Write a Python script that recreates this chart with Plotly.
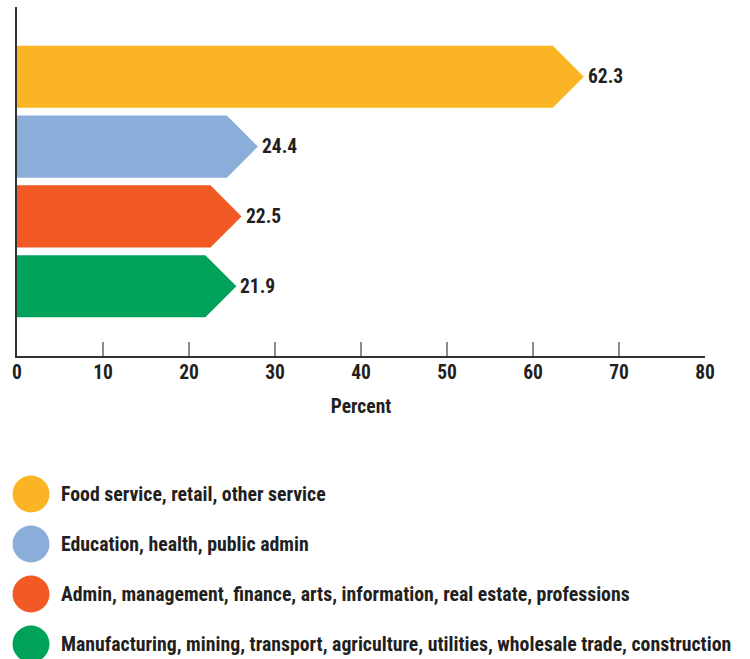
import plotly.graph_objects as go

# Share of workers by industry group
categories = [
    "Food service, retail, other service",
    "Education, health, public admin",
    "Admin, management, finance, arts, information, real estate, professions",
    "Manufacturing, mining, transport, agriculture, utilities, wholesale trade, construction",
]
values = [62.3, 24.4, 22.5, 21.9]
colors = ["#FBB424", "#8AADD9", "#F15A25", "#00A25A"]
x_ticks = [0, 10, 20, 30, 40, 50, 60, 70, 80]

W, H = 750, 659
FONT = "Roboto Condensed, Liberation Sans Narrow, DejaVu Sans Condensed, sans-serif"
TEXT = "#231F20"
FS = 19.5

# plot area in pixels
px_left, px_right, px_top, px_bottom = 17, 705, 7, 356
x_range = [0, 80]
y_range = [4, -1]
px_per_x = (px_right - px_left) / (x_range[1] - x_range[0])
px_per_y = (px_bottom - px_top) / abs(y_range[0] - y_range[1])

half = 0.445                       # half bar thickness, category units
tip = half * px_per_y / px_per_x   # arrow point length for a 45-degree tip


def font(size=FS):
    return dict(family=FONT, size=size, color=TEXT, weight="bold")


fig = go.Figure()

for i, (cat, v, c) in enumerate(zip(categories, values, colors)):
    xs = [0, v, v + tip, v, 0, 0]
    ys = [i - half, i - half, i, i + half, i + half, i - half]
    fig.add_trace(go.Scatter(
        x=xs, y=ys, mode="lines", fill="toself", fillcolor=c,
        line=dict(width=0, color=c), hoverinfo="skip", showlegend=False,
        xaxis="x", yaxis="y",
    ))
    fig.add_annotation(
        x=v + tip, y=i, xref="x", yref="y", text=f"{v:.1f}",
        showarrow=False, xanchor="left", yanchor="middle", xshift=2,
        font=font(),
    )

# legend drawn as a key of dots with labels below the chart
legend_y0, legend_step, dot_x, text_x = 494, 50, 31, 61
fig.add_trace(go.Scatter(
    x=[dot_x] * len(categories),
    y=[legend_y0 + legend_step * i for i in range(len(categories))],
    mode="markers", marker=dict(size=37, color=colors, line=dict(width=0)),
    hoverinfo="skip", showlegend=False, xaxis="x2", yaxis="y2", cliponaxis=False,
))
for i, cat in enumerate(categories):
    fig.add_annotation(
        x=text_x, y=legend_y0 + legend_step * i, xref="x2", yref="y2",
        text=cat, showarrow=False, xanchor="left", yanchor="middle", xshift=-2,
        font=font(19.8),
    )

fig.update_layout(
    width=W, height=H,
    margin=dict(l=0, r=0, t=0, b=0, autoexpand=False),
    paper_bgcolor="white", plot_bgcolor="rgba(0,0,0,0)",
    font=font(),
    xaxis=dict(
        domain=[px_left / W, px_right / W], range=x_range,
        tickvals=x_ticks, ticks="inside", ticklen=14, tickwidth=2, tickcolor="#8C8C8C",
        showline=True, linecolor="#333333", linewidth=2, showgrid=False, zeroline=False,
        tickfont=font(), automargin=False, ticklabelstandoff=-2,
        title=dict(text="Percent", standoff=16, font=font()),
        anchor="y", fixedrange=True,
    ),
    yaxis=dict(
        domain=[1 - px_bottom / H, 1 - px_top / H], range=y_range,
        showline=True, linecolor="#333333", linewidth=2, showgrid=False, zeroline=False,
        showticklabels=False, ticks="", anchor="x", fixedrange=True, automargin=False,
    ),
    xaxis2=dict(domain=[0, 1], range=[0, W], visible=False, anchor="y2", fixedrange=True),
    yaxis2=dict(domain=[0, 1], range=[H, 0], visible=False, anchor="x2", fixedrange=True),
)

fig.write_html("out.html")
